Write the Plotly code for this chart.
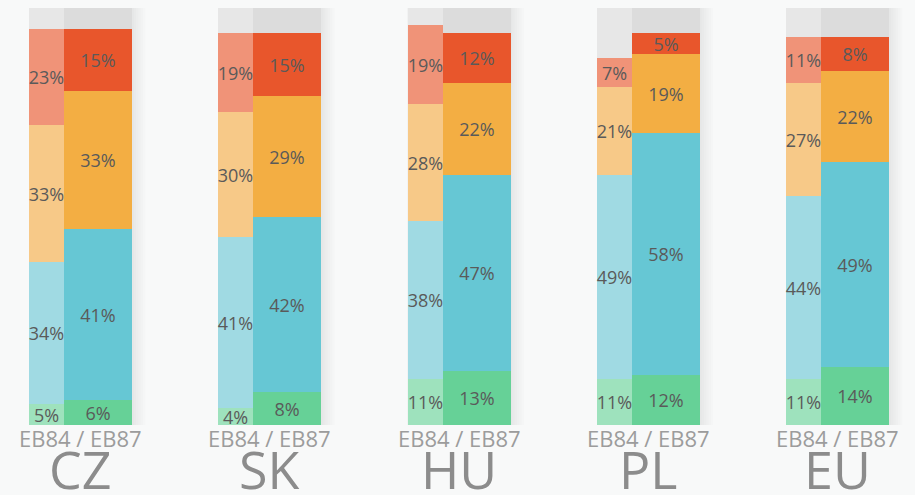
import plotly.graph_objects as go

countries = ['CZ', 'SK', 'HU', 'PL', 'EU']
waves = ['EB84', 'EB87']

# shares per wave, bottom to top
green_eb84 = [5, 4, 11, 11, 11]
blue_eb84 = [34, 41, 38, 49, 44]
orange_eb84 = [33, 30, 28, 21, 27]
red_eb84 = [23, 19, 19, 7, 11]
grey_eb84 = [5, 6, 4, 12, 7]

green_eb87 = [6, 8, 13, 12, 14]
blue_eb87 = [41, 42, 47, 58, 49]
orange_eb87 = [33, 29, 22, 19, 22]
red_eb87 = [15, 15, 12, 5, 8]
grey_eb87 = [5, 6, 6, 6, 7]

light = ['#9ee2bd', '#a0dae3', '#f7c988', '#f09378', '#e7e7e7']
dark = ['#66d197', '#66c7d4', '#f3ae43', '#e8562c', '#dcdcdc']

w84, w87 = 0.185, 0.36
x84 = [i + w84 / 2 for i in range(len(countries))]
x87 = [i + w84 + w87 / 2 for i in range(len(countries))]
xc = [i + (w84 + w87) / 2 for i in range(len(countries))]

fig = go.Figure()

# soft shadow to the right of each pair
for i in range(len(countries)):
    for k in range(6):
        fig.add_shape(type='rect', xref='x', yref='paper',
                      x0=i, x1=i + w84 + w87 + 0.01 + k * 0.012, y0=0, y1=1,
                      fillcolor='rgba(0,0,0,0.012)', line_width=0, layer='below')

series84 = [green_eb84, blue_eb84, orange_eb84, red_eb84, grey_eb84]
series87 = [green_eb87, blue_eb87, orange_eb87, red_eb87, grey_eb87]

for xs, width, series, cols in [(x84, w84, series84, light), (x87, w87, series87, dark)]:
    for j, vals in enumerate(series):
        show_text = j < 4
        fig.add_trace(go.Bar(
            x=xs, y=vals, width=width,
            marker=dict(color=cols[j], line_width=0),
            text=[f'{v}%' for v in vals] if show_text else None,
            textposition='inside' if show_text else 'none',
            insidetextanchor='middle', textangle=0,
            textfont=dict(size=18, color='#5a5a5a', family='Open Sans'),
            hoverinfo='skip', showlegend=False,
        ))

for i, c in enumerate(countries):
    fig.add_annotation(x=xc[i], y=-0.031, xref='x', yref='paper', yanchor='middle',
                       text=' / '.join(waves), showarrow=False,
                       font=dict(size=22, color='#9c9c9c', family='Open Sans'))
    fig.add_annotation(x=xc[i], y=-0.104, xref='x', yref='paper', yanchor='middle',
                       text=c, showarrow=False,
                       font=dict(size=52, color='#8c8c8c', family='Open Sans'))

fig.update_layout(
    width=915, height=495,
    margin=dict(l=0, r=0, t=8, b=70),
    barmode='stack', bargap=0,
    paper_bgcolor='#f8f9f9', plot_bgcolor='rgba(0,0,0,0)',
    uniformtext=dict(minsize=18, mode='show'),
    xaxis=dict(range=[-29 / 189.3, 886 / 189.3], visible=False, fixedrange=True),
    yaxis=dict(range=[0, 100], visible=False, fixedrange=True),
)

fig.write_html('out.html', config={'displayModeBar': False},
               post_script="document.body.style.margin='0';document.body.style.overflow='hidden';")
